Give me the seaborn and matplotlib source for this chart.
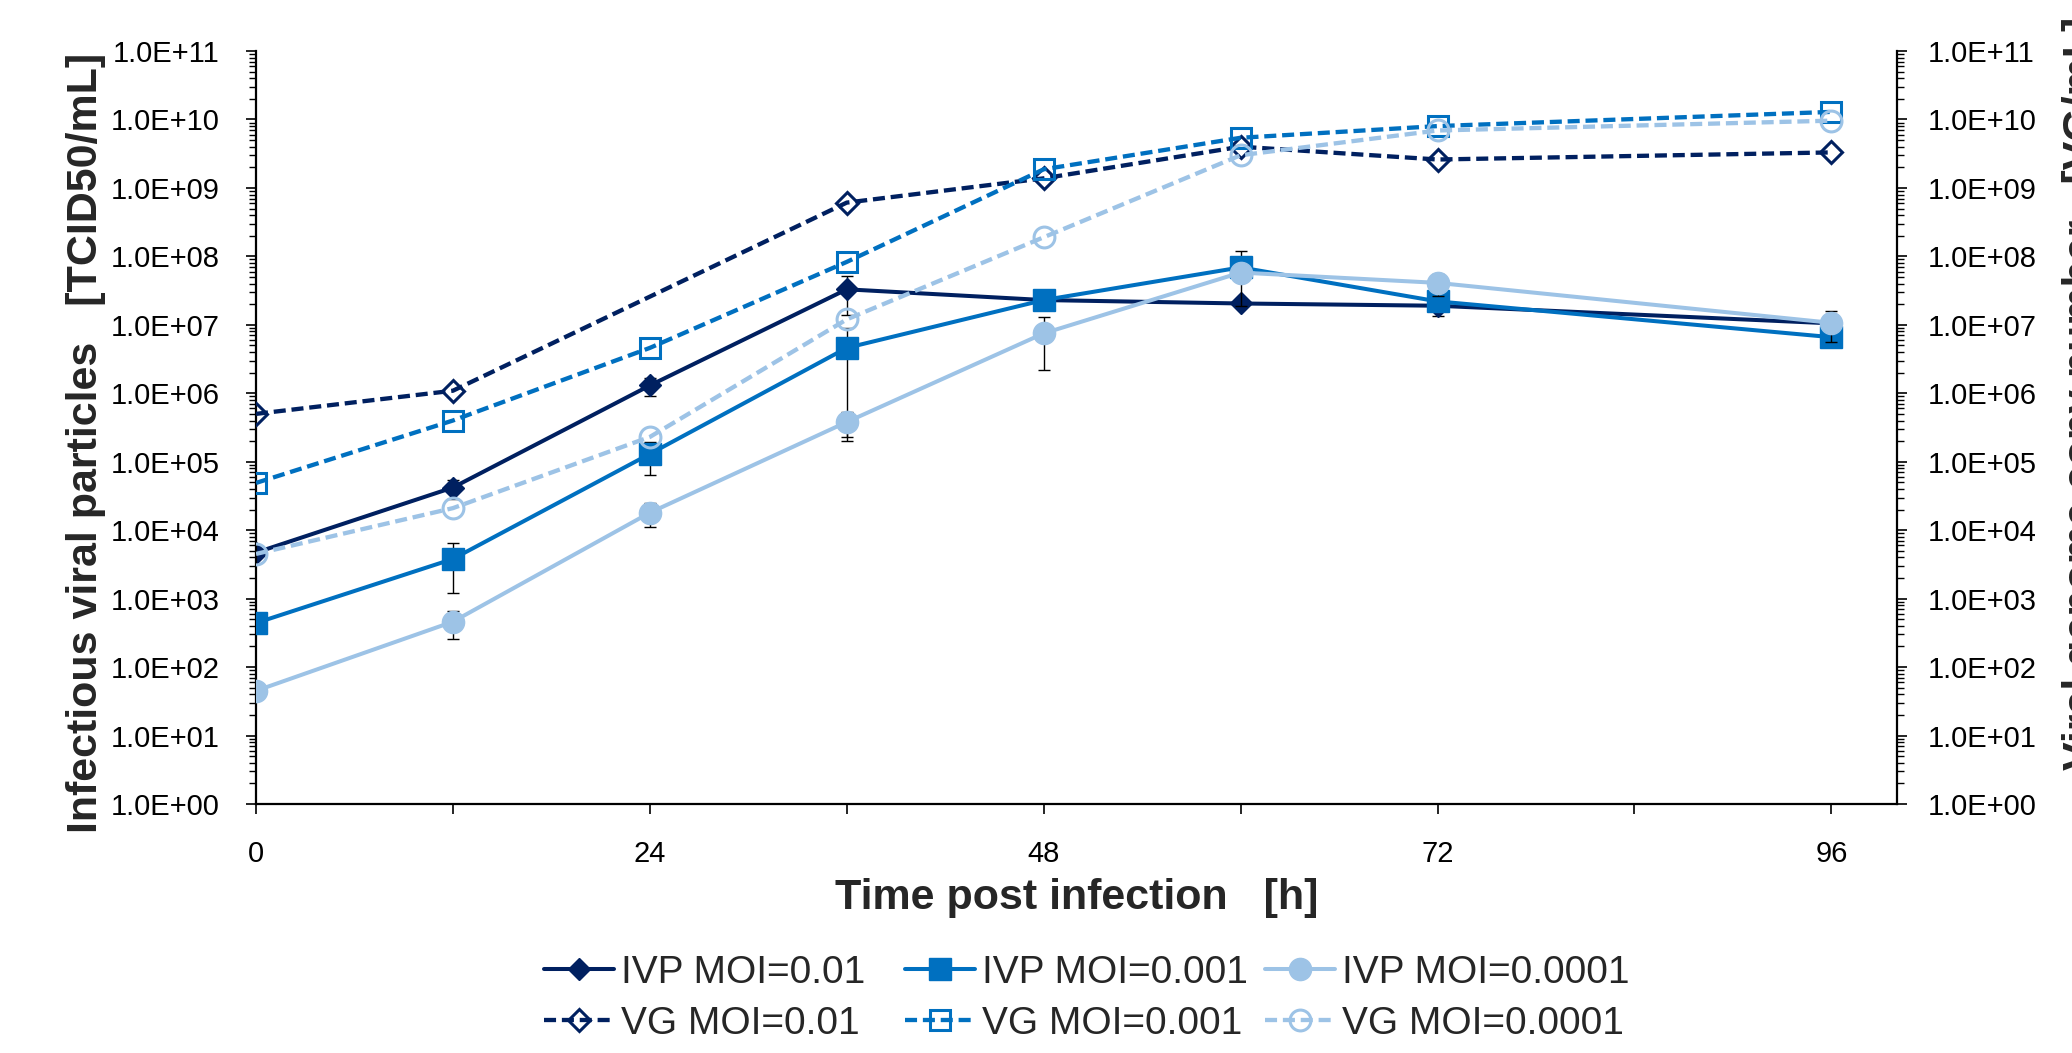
import numpy as np
import pandas as pd
import matplotlib
matplotlib.use("Agg")
import matplotlib.pyplot as plt
from matplotlib.ticker import LogLocator, FuncFormatter, NullFormatter
import seaborn as sns

# ---------------- data ----------------
hours = [0, 12, 24, 36, 48, 60, 72, 96]
hours_vg_001 = [0, 12, 36, 48, 60, 72, 96]

ivp_moi_001 = [4.7e3, 4.2e4, 1.3e6, 3.3e7, 2.3e7, 2.05e7, 1.9e7, 1.05e7]
ivp_moi_001_sd = [5e2, 1.3e4, 3.8e5, 1.9e7, 2e6, 1e6, 5.5e6, 1e6]
ivp_moi_0001 = [4.4e2, 3.8e3, 1.3e5, 4.6e6, 2.3e7, 6.9e7, 2.2e7, 6.6e6]
ivp_moi_0001_sd = [5e1, 2.6e3, 6.5e4, 4.4e6, 3e6, 5e7, 3e6, 8e5]
ivp_moi_00001 = [45, 4.6e2, 1.8e4, 3.8e5, 7.5e6, 5.8e7, 4.1e7, 1.07e7]
ivp_moi_00001_sd = [4, 2e2, 7e3, 1.5e5, 5.3e6, 5e6, 1.5e7, 5e6]

vg_moi_001 = [5.0e5, 1.09e6, 6.1e8, 1.38e9, 4.0e9, 2.6e9, 3.3e9]
vg_moi_0001 = [4.9e4, 4.0e5, 4.6e6, 8.3e7, 1.87e9, 5.4e9, 8.0e9, 1.29e10]
vg_moi_00001 = [4.5e3, 2.1e4, 2.3e5, 1.2e7, 1.9e8, 3.0e9, 6.9e9, 9.6e9]

labels_ivp = ["IVP MOI=0.01", "IVP MOI=0.001", "IVP MOI=0.0001"]
labels_vg = ["VG MOI=0.01", "VG MOI=0.001", "VG MOI=0.0001"]
x_ticks = [0, 12, 24, 36, 48, 60, 72, 84, 96]
x_tick_labels = ["0", "", "24", "", "48", "", "72", "", "96"]

# ---------------- style ----------------
sns.set_style("ticks")
plt.rcParams['font.family'] = ['Liberation Sans', 'DejaVu Sans']

NAVY, MID, LIGHT = "#002060", "#0070C0", "#9DC3E6"
colors = [NAVY, MID, LIGHT]
markers = ["D", "s", "o"]
msizes = [11.3, 16, 16]
vg_msizes = [11, 15, 15]

fig = plt.figure(figsize=(20.72, 10.53), dpi=100)
L, R, B, T = 256 / 2072, 1897 / 2072, 1 - 804 / 1053, 1 - 51 / 1053
ax = fig.add_axes([L, B, R - L, T - B])
ax2 = ax.twinx()

ivp_vals = [ivp_moi_001, ivp_moi_0001, ivp_moi_00001]
ivp_sds = [ivp_moi_001_sd, ivp_moi_0001_sd, ivp_moi_00001_sd]
vg_vals = [vg_moi_001, vg_moi_0001, vg_moi_00001]
vg_x = [hours_vg_001, hours, hours]

ivp_handles = []
for i in range(3):
    ax.errorbar(hours, ivp_vals[i], yerr=ivp_sds[i], fmt="none", ecolor="black",
                elinewidth=1.0, capsize=4, capthick=1.0, zorder=1.5 + i)
    sns.lineplot(x=hours, y=ivp_vals[i], ax=ax, color=colors[i], linewidth=2.9,
                 marker=markers[i], markersize=msizes[i], markerfacecolor=colors[i],
                 markeredgecolor=colors[i], markeredgewidth=1.0, errorbar=None,
                 legend=False, zorder=2 + i)
    ivp_handles.append(ax.lines[-1])

vg_handles = []
for i in range(3):
    sns.lineplot(x=vg_x[i], y=vg_vals[i], ax=ax2, color=colors[i], linewidth=3.1,
                 linestyle=(0, (2.8, 1.35)), marker=markers[i], markersize=vg_msizes[i],
                 markerfacecolor="none", markeredgecolor=colors[i], markeredgewidth=2.2,
                 errorbar=None, legend=False, zorder=2 + i)
    vg_handles.append(ax2.lines[-1])

# ---------------- axes ----------------
fmt = FuncFormatter(lambda v, p: f"{v:.1E}")
for a in (ax, ax2):
    a.set_yscale("log")
    a.set_ylim(1, 1e11)
    a.set_xlim(0, 100)
    a.yaxis.set_major_locator(LogLocator(base=10, numticks=30))
    a.yaxis.set_minor_locator(LogLocator(base=10, subs=np.arange(2, 10), numticks=300))
    a.yaxis.set_major_formatter(fmt)
    a.yaxis.set_minor_formatter(NullFormatter())
    a.set_ylabel("")
    a.set_xlabel("")
    a.spines["top"].set_visible(False)
    for s in a.spines.values():
        s.set_linewidth(1.6)
        s.set_color("black")

ax.spines["right"].set_visible(False)
ax2.spines["left"].set_visible(False)
ax2.spines["bottom"].set_visible(False)

ax.set_xticks(x_ticks)
ax.set_xticklabels(x_tick_labels)
ax.tick_params(axis="x", which="major", direction="out", length=7, width=1.2,
               labelsize=21, pad=19, colors="black")
ax.tick_params(axis="y", which="major", direction="out", length=7, width=1.2,
               labelsize=21, pad=19, colors="black")
ax.tick_params(axis="y", which="minor", direction="out", length=5, width=1.0, colors="black")
ax2.tick_params(axis="y", which="major", direction="out", length=7, width=1.2,
                labelsize=21, pad=15, colors="black")
ax2.tick_params(axis="y", which="minor", direction="out", length=5, width=1.0, colors="black")

ax.set_xlabel("Time post infection   [h]", fontsize=31, fontweight="bold", labelpad=7)
ax.set_ylabel("Infectious viral particles   [TCID50/mL]", fontsize=31, fontweight="bold")
ax.yaxis.set_label_coords(-0.0915, 0.479)
ax2.set_ylabel("Viral genome copy number   [VG/mL]", fontsize=31, fontweight="bold",
               rotation=90, va="top")
ax2.yaxis.set_label_coords(1.1005, 0.545)

# ---------------- legend (three columns) ----------------
col_x = [544 / 2072, 905 / 2072, 1265 / 2072]
for i in range(3):
    fig.legend([ivp_handles[i], vg_handles[i]], [labels_ivp[i], labels_vg[i]],
               loc="upper left", bbox_to_anchor=(col_x[i], 1 - 955 / 1053),
               frameon=False, fontsize=28, handlelength=1.8, handletextpad=0.18,
               borderpad=0, borderaxespad=0, labelspacing=0.38)

fig.savefig("out.png", dpi=100, facecolor="white")
